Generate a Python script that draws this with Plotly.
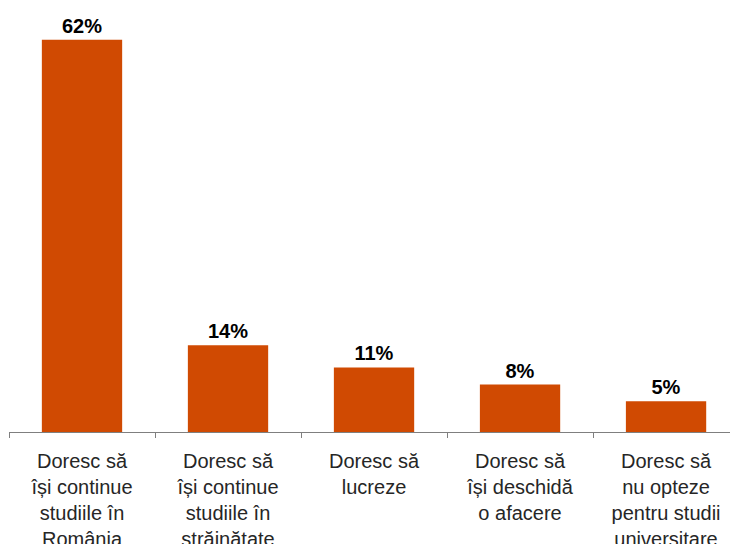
import plotly.graph_objects as go

categories = [
    "Doresc să<br>își continue<br>studiile în<br>România",
    "Doresc să<br>își continue<br>studiile în<br>străinătate",
    "Doresc să<br>lucreze",
    "Doresc să<br>își deschidă<br>o afacere",
    "Doresc să<br>nu opteze<br>pentru studii<br>universitare",
]
# bar heights; labels as printed
values = [62, 13.7, 10.2, 7.5, 4.85]
labels = ["62%", "14%", "11%", "8%", "5%"]

fig = go.Figure()
fig.add_trace(
    go.Bar(
        x=categories,
        y=values,
        text=labels,
        textposition="outside",
        textfont=dict(family="Liberation Sans", size=20, color="#000000"),
        texttemplate="<b>%{text}</b>",
        marker=dict(color="#D04A02", line=dict(width=0)),
        cliponaxis=False,
        width=0.55,
        hoverinfo="skip",
    )
)

fig.update_layout(
    width=730,
    height=544,
    margin=dict(l=9, r=0, t=0, b=112),
    plot_bgcolor="white",
    paper_bgcolor="white",
    showlegend=False,
    xaxis=dict(
        range=[-0.5, 4.438],
        showline=True,
        linecolor="#7f7f7f",
        linewidth=1,
        ticks="outside",
        tickson="boundaries",
        ticklen=5,
        tickcolor="#7f7f7f",
        ticklabelstandoff=11,
        tickfont=dict(family="Liberation Sans", size=20, color="#262626"),
        showgrid=False,
        automargin=False,
        fixedrange=True,
    ),
    yaxis=dict(
        range=[0, 68.3],
        visible=False,
        showgrid=False,
        zeroline=False,
        fixedrange=True,
    ),
)

fig.write_html(
    "out.html",
    config={"displayModeBar": False},
    post_script="document.body.style.margin='0';document.body.style.overflow='hidden';",
)
